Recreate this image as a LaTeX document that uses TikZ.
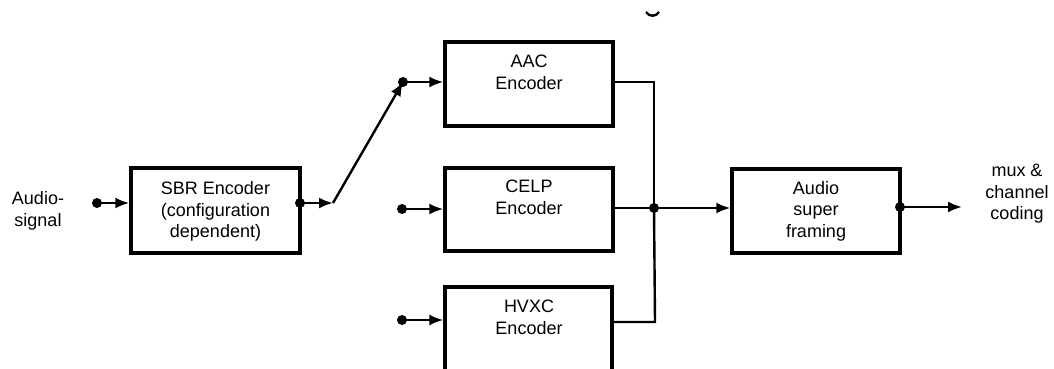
\documentclass[tikz,border=0pt]{standalone}
\usepackage{fontspec}
\setmainfont{Liberation Sans}
\usetikzlibrary{arrows.meta}
\begin{document}
\begin{tikzpicture}[x=1pt,y=-1pt,
  blk/.style={draw,line width=3.4pt,minimum width=#1,inner sep=0pt},
  lbl/.style={align=center,font=\fontsize{18}{21.5}\selectfont,inner sep=0pt},
  conn/.style={line width=2.4pt,-{Latex[length=14pt,width=11pt]}},
  wire/.style={line width=2.4pt},
  dotc/.style={circle,fill,inner sep=0pt,minimum size=10pt}]
\useasboundingbox (0,0) rectangle (1054,369);
\clip (0,0) rectangle (1054,369);
% boxes
\node[blk=169pt,minimum height=85pt] (sbr) at (215.5,210.5) {};
\node[blk=168pt,minimum height=84pt] (aac) at (529,84) {};
\node[blk=168pt,minimum height=83pt] (celp) at (529,209.5) {};
\node[blk=167pt,minimum height=110pt] (hvxc) at (528.5,342) {};
\node[blk=168pt,minimum height=84pt] (asf) at (816,211) {};
% texts
\node[lbl] (tsbr) at (215.5,211.5) {SBR Encoder\\(configuration\\dependent)};
\node[lbl] (taac) at (529,72.5) {AAC\\Encoder};
\node[lbl] (tcelp) at (529,197.5) {CELP\\Encoder};
\node[lbl] (thvxc) at (529,317.5) {HVXC\\Encoder};
\node[lbl] (tasf) at (816,211) {Audio\\super\\framing};
\node[lbl] (tin) at (38,211) {Audio-\\signal};
\node[lbl] (tout) at (1017,194) {mux \&\\channel\\coding};
% coordinates
\coordinate (a0) at (97,203);
\coordinate (b0) at (300,203);
\coordinate (b1) at (333,203);
\coordinate (c1) at (403,82);
\coordinate (d0) at (402,209);
\coordinate (e0) at (402,320);
\coordinate (j) at (654,208);
\coordinate (ja) at (654,82);
\coordinate (jh) at (655,322);
\coordinate (o0) at (900,207);
\coordinate (o1) at (962,207);
% dots
\node[dotc] (da0) at (a0) {};
\node[dotc] (db0) at (b0) {};
\node[dotc] (dc1) at (c1) {};
\node[dotc] (dd0) at (d0) {};
\node[dotc] (de0) at (e0) {};
\node[dotc] (dj) at (j) {};
\node[dotc] (do0) at (o0) {};
% connectors
\draw[conn] (a0) -- (a0 -| sbr.west);
\draw[conn] (b0) -- (b1);
\draw[conn] (b1) -- (c1);
\draw[conn] (c1) -- (c1 -| aac.west);
\draw[conn] (d0) -- (d0 -| celp.west);
\draw[conn] (e0) -- (e0 -| hvxc.west);
\draw[wire] (ja -| aac.east) -- (ja) -- (j);
\draw[wire] (j -| celp.east) -- (j);
\draw[wire] (jh -| hvxc.east) -- (jh) -- (j);
\draw[conn] (j) -- (j -| asf.west);
\draw[conn] (o0) -- (o1);
% stray fragment at top
\draw[line width=2.4pt] (646,12) .. controls (649,17) and (656,17) .. (659,12);
\end{tikzpicture}
\end{document}
